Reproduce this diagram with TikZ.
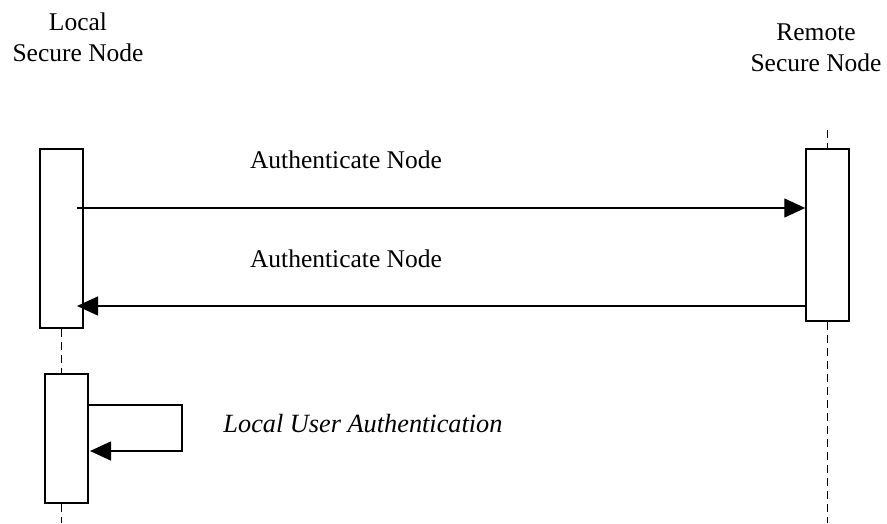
\documentclass[tikz,border=0pt]{standalone}
\usepackage{fontspec}
\setmainfont{Liberation Serif}
\usetikzlibrary{arrows.meta,calc}
\begin{document}
\begin{tikzpicture}[x=1pt,y=-1pt,
  actbox/.style={draw,line width=1.5pt,inner sep=0pt,fill=white},
  life/.style={line width=1.6pt,dash pattern=on 8pt off 5pt},
  msg/.style={line width=1.4pt,-{Triangle[length=21pt,width=19pt]}},
  lbl/.style={font=\fontsize{25.5}{31}\selectfont,inner sep=0pt},
  hdr/.style={lbl,align=center}]
\useasboundingbox (0,0) rectangle (887,523);
% headers
\node[hdr] (lh) at (78,37) {Local\\Secure Node};
\node[hdr] (rh) at (816,48) {Remote\\Secure Node};
% activation boxes
\node[actbox,minimum width=43pt,minimum height=179pt] (lb1) at (61.5,238.5) {};
\node[actbox,minimum width=43pt,minimum height=129pt] (lb2) at (66.5,438.5) {};
\node[actbox,minimum width=43pt,minimum height=172pt] (rb) at (827.5,235) {};
% lifelines
\coordinate (lbot) at (61.5,523);
\coordinate (rtop) at (827.5,130);
\coordinate (rbot) at (827.5,523);
\draw[life] (lb1.south) -- (lb1.south |- lb2.north);
\draw[life] (lb1.south |- lb2.south) -- (lbot);
\draw[life] (rtop) -- (rb.north);
\draw[life] (rb.south) -- (rbot);
% messages
\coordinate (m1s) at (77,208);
\draw[msg] (m1s) -- (m1s -| rb.west);
\coordinate (m2e) at (77,306);
\draw[msg] (m2e -| rb.west) -- (m2e);
\node[lbl,anchor=base] (t1) at (346,168) {Authenticate Node};
\node[lbl,anchor=base] (t2) at (346,267) {Authenticate Node};
% self message
\coordinate (s1) at (182,405);
\coordinate (s2) at (182,451);
\coordinate (s3) at (90,451);
\draw[msg] (lb2.east |- s1) -- (s1) -- (s2) -- (s3);
\node[lbl,anchor=base,font=\fontsize{26.3}{31}\selectfont\itshape] (t3) at (363,432) {Local User Authentication};
\end{tikzpicture}
\end{document}
